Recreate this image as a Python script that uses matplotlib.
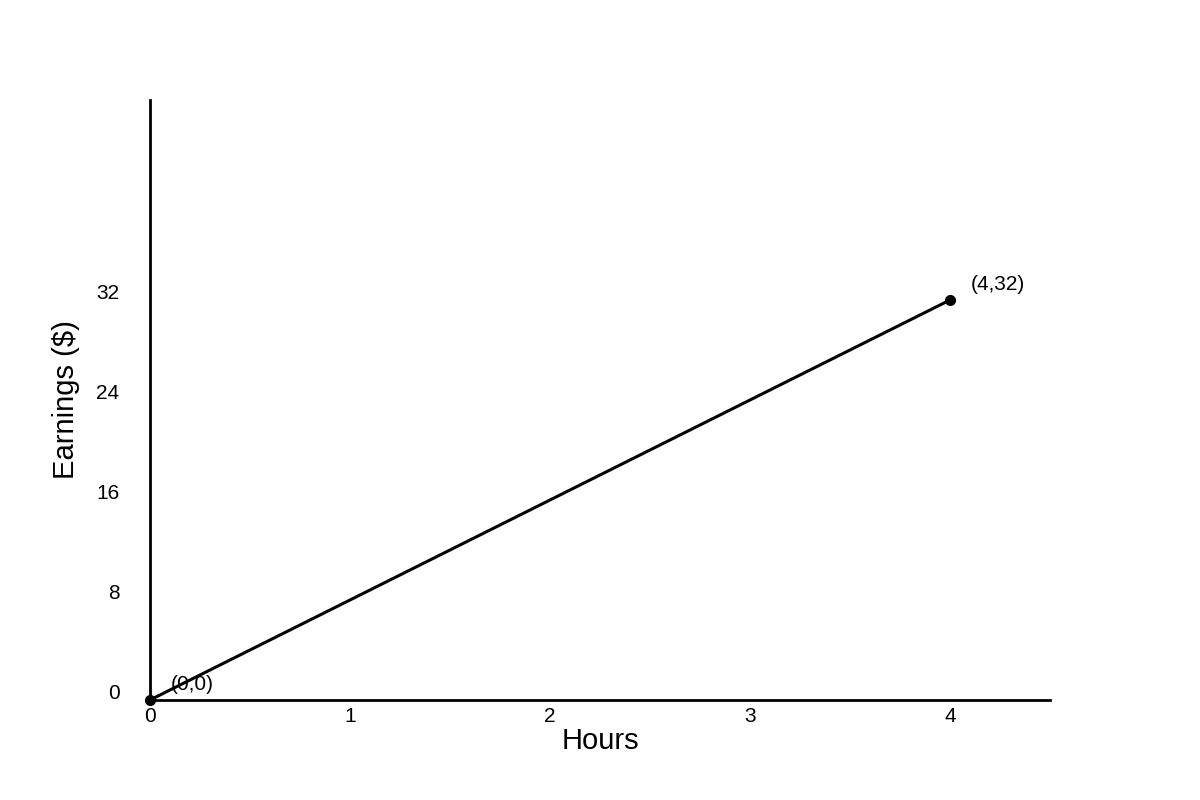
import matplotlib
matplotlib.use("Agg")
import matplotlib.pyplot as plt
from matplotlib.transforms import ScaledTranslation

hours = [0, 4]
earnings = [0, 32]
point_labels = ["(0,0)", "(4,32)"]
xticks = [0, 1, 2, 3, 4]
yticks = [0, 8, 16, 24, 32]

plt.rcParams['font.family'] = ['Liberation Sans', 'DejaVu Sans']
fig = plt.figure(figsize=(12, 8), dpi=100)
ax = fig.add_axes([0.125, 0.125, 0.75, 0.75])
ax.plot(hours, earnings, color='black', lw=2.2, marker='o', ms=7, clip_on=False, zorder=3)
for x, y, t in zip(hours, earnings, point_labels):
    ax.annotate(t, (x, y), xytext=(15, 4), textcoords='offset points', fontsize=15, va='bottom', ha='left')
ax.set_xlim(0, 4.5)
ax.set_ylim(0, 48)
ax.set_xticks(xticks)
ax.set_yticks(yticks)
ax.tick_params(length=0, labelsize=15)
ax.tick_params(axis='y', pad=22)
ax.tick_params(axis='x', pad=5)
for lab in ax.get_yticklabels():
    lab.set_transform(lab.get_transform() + ScaledTranslation(0, 6/72, fig.dpi_scale_trans))
for s in ['top', 'right']:
    ax.spines[s].set_visible(False)
for s in ['left', 'bottom']:
    ax.spines[s].set_linewidth(2)
ax.set_xlabel('Hours', fontsize=21, labelpad=1)
ax.set_ylabel('Earnings ($)', fontsize=21, labelpad=12)
fig.savefig('out.png', dpi=100)
